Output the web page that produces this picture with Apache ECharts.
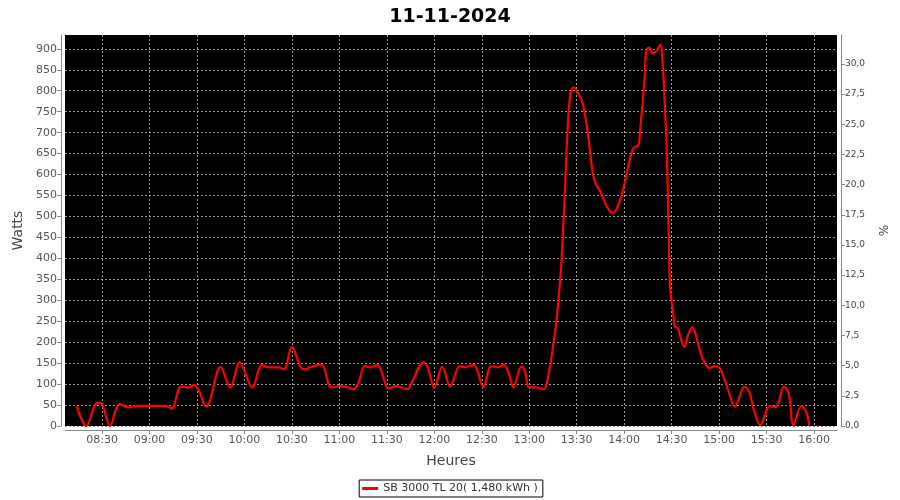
<!DOCTYPE html>
<html>
<head>
<meta charset="utf-8">
<script src="https://cdn.jsdelivr.net/npm/echarts@6/dist/echarts.min.js"></script>
<style>
html,body{margin:0;padding:0;background:#fff;}
#chart{width:900px;height:500px;}
</style>
</head>
<body>
<div id="chart"></div>
<script>
const titleText = "11-11-2024";
const seriesName = "SB 3000 TL 20( 1,480 kWh )";
const times = ["08:14","08:20","08:27","08:29","08:35","08:41","08:47","08:51","09:10","09:14","09:20","09:25","09:28","09:31","09:36","09:38","09:45","09:51","09:57","10:05","10:11","10:15","10:22","10:25","10:30","10:36","10:39","10:41","10:48","10:50","10:55","11:00","11:04","11:09","11:12","11:16","11:19","11:24","11:27","11:31","11:36","11:43","11:46","11:53","11:56","12:00","12:05","12:10","12:16","12:19","12:25","12:27","12:31","12:36","12:40","12:44","12:47","12:50","12:55","12:57","13:00","13:04","13:09","13:13","13:15","13:17","13:20","13:22","13:24","13:26","13:28","13:31","13:34","13:37","13:40","13:42","13:45","13:49","13:53","13:57","14:00","14:04","14:06","14:09","14:10","14:13","14:14","14:16","14:18","14:21","14:23","14:24","14:25","14:27","14:28","14:29","14:31","14:32","14:34","14:36","14:38","14:40","14:43","14:45","14:48","14:51","14:54","14:57","15:00","15:03","15:06","15:10","15:16","15:19","15:22","15:26","15:32","15:35","15:37","15:41","15:44","15:47","15:52","15:55","15:57","15:59","16:02","16:03"];
const watts = [48,0,55,55,0,52,44,48,48,42,94,92,98,86,46,58,141,92,151,92,146,140,140,135,189,138,135,140,146,142,92,95,94,88,102,143,140,146,126,90,95,88,106,152,138,91,142,94,143,140,146,135,92,143,140,146,126,92,142,135,92,92,88,140,189,245,372,516,691,794,808,794,766,699,607,578,559,524,508,535,575,643,663,671,703,834,898,903,889,898,910,880,820,643,476,333,269,237,233,205,189,213,236,221,177,150,138,143,140,116,82,46,94,82,38,2,48,45,50,94,78,2,48,34,0,null,0,0];
const xTickLabels = ["08:30","09:00","09:30","10:00","10:30","11:00","11:30","12:00","12:30","13:00","13:30","14:00","14:30","15:00","15:30","16:00"];
const wattTicks = [0,50,100,150,200,250,300,350,400,450,500,550,600,650,700,750,800,850,900];
const pctTicks = [0,2.5,5,7.5,10,12.5,15,17.5,20,22.5,25,27.5,30];

function toMin(s){const p=s.split(":");return (+p[0])*60+(+p[1]);}
function fmtMin(v){const h=Math.floor(v/60), m=Math.round(v-h*60);return (h<10?"0":"")+h+":"+(m<10?"0":"")+m;}

const data = times.map((t,i)=>[toMin(t), watts[i]]);
const font = "DejaVu Sans";
const gridLine = {show:true,lineStyle:{color:'#9a9a9a',type:[2,2],width:1}};
const chart = echarts.init(document.getElementById('chart'), null, {renderer:'canvas'});
chart.setOption({
  backgroundColor:'#ffffff',
  animation:false,
  textStyle:{fontFamily:font},
  title:{text:titleText,left:'center',top:3,textStyle:{fontFamily:font,fontSize:19,fontWeight:'bold',color:'#000'}},
  legend:{bottom:3,left:'center',data:[seriesName],borderColor:'#000',borderWidth:1,borderRadius:0,padding:[3,5,3,3],
    itemWidth:16,itemHeight:3,icon:'rect',itemGap:5,textStyle:{fontFamily:font,fontSize:11,color:'#333'}},
  grid:{left:65,right:63,top:35,bottom:74,show:true,backgroundColor:'#000',borderWidth:0,containLabel:false},
  xAxis:{type:'value',min:486.6,max:974.5,offset:4,name:'Heures',nameLocation:'middle',nameGap:24,
    nameTextStyle:{fontFamily:font,fontSize:14,color:'#444'},
    axisLine:{show:true,onZero:false,lineStyle:{color:'#888',width:1}},
    axisTick:{show:true,length:4,lineStyle:{color:'#888'},customValues:xTickLabels.map(toMin)},
    axisLabel:{customValues:xTickLabels.map(toMin),formatter:v=>fmtMin(v),fontFamily:font,fontSize:11,color:'#555',margin:5},
    splitLine:gridLine},
  yAxis:[
    {type:'value',min:0,max:933,offset:4,position:'left',name:'Watts',nameLocation:'middle',nameGap:36,nameRotate:90,
      nameTextStyle:{fontFamily:font,fontSize:14,color:'#444'},
      axisLine:{show:true,lineStyle:{color:'#888'}},
      axisTick:{show:true,length:4,lineStyle:{color:'#888'},customValues:wattTicks},
      axisLabel:{customValues:wattTicks,fontFamily:font,fontSize:11,color:'#555',margin:4},
      splitLine:gridLine},
    {type:'value',min:0,max:32.4,offset:4,position:'right',name:'%',nameLocation:'middle',nameGap:38,nameRotate:90,
      nameTextStyle:{fontFamily:font,fontSize:12,color:'#444'},
      axisLine:{show:true,lineStyle:{color:'#888'}},
      axisTick:{show:true,length:4,lineStyle:{color:'#888'},customValues:pctTicks},
      axisLabel:{customValues:pctTicks,formatter:v=>v.toFixed(1).replace('.',','),fontFamily:font,fontSize:9,color:'#444',margin:4},
      splitLine:{show:false}}
  ],
  series:[{name:seriesName,type:'line',data:data,yAxisIndex:0,smooth:0.35,showSymbol:false,connectNulls:false,
    lineStyle:{color:'#ff0000',width:2.2},itemStyle:{color:'#ff0000'}}]
});
</script>
</body>
</html>
